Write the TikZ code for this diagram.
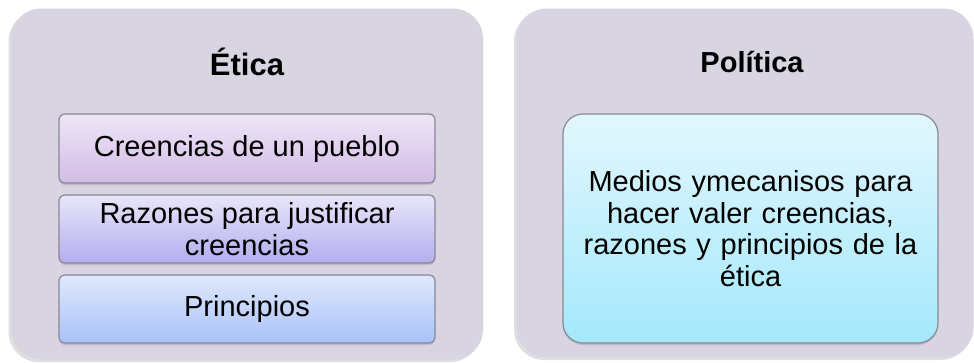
\documentclass[tikz,border=0pt]{standalone}
\usepackage{fontspec}
\setmainfont{Liberation Sans}
\usetikzlibrary{shadows}
\definecolor{outerfill}{HTML}{D8D4E2}
\definecolor{shadowc}{HTML}{B8B8BC}
\definecolor{aTop}{HTML}{EEE5F6}
\definecolor{aBot}{HTML}{D3BCE6}
\definecolor{bTop}{HTML}{E8E6FA}
\definecolor{bBot}{HTML}{B3ADEE}
\definecolor{cTop}{HTML}{E0E8FC}
\definecolor{cBot}{HTML}{A8C2F9}
\definecolor{dTop}{HTML}{E2F7FD}
\definecolor{dBot}{HTML}{A4E8FC}
\definecolor{edgec}{HTML}{8A8894}
\tikzset{
  outerbox/.style={rectangle, rounded corners=30pt, fill=outerfill, draw=none, inner sep=0pt,
    general shadow={fill=shadowc, opacity=0.45, shadow xshift=-2.5pt, shadow yshift=-2.5pt}},
  smallbox/.style={rectangle, rounded corners=6pt, draw=edgec, line width=1.2pt, inner sep=0pt,
    shading=axis, shading angle=0, align=center, font=\fontsize{29}{31.5}\selectfont,
    general shadow={fill=black, opacity=0.12, shadow xshift=0pt, shadow yshift=-2pt}},
  bigbox/.style={smallbox, rounded corners=20pt},
  title/.style={font=\fontsize{30}{34}\selectfont\bfseries}
}
\begin{document}
\begin{tikzpicture}[x=1pt,y=-1pt]
\useasboundingbox (0,0) rectangle (974,362);
% outer containers
\node[outerbox, minimum width=472pt, minimum height=351pt] (L) at (247,184) {};
\node[outerbox, minimum width=457pt, minimum height=349pt] (R) at (745,183) {};
% titles
\node[title, font=\fontsize{31}{34}\selectfont\bfseries] (Lt) at (247,62) {Ética};
\node[title, font=\fontsize{29}{34}\selectfont\bfseries] (Rt) at (752,62) {Política};
% ethics boxes
\node[smallbox, top color=aTop, bottom color=aBot, minimum width=376pt, minimum height=69pt] (A) at (247,148.5) {Creencias de un pueblo};
\node[smallbox, top color=bTop, bottom color=bBot, minimum width=376pt, minimum height=68pt] (B) at (247,229) {Razones para justificar\\creencias};
\node[smallbox, top color=cTop, bottom color=cBot, minimum width=376pt, minimum height=68pt] (C) at (247,309) {Principios};
% politics box
\node[bigbox, top color=dTop, bottom color=dBot, minimum width=375pt, minimum height=229pt, text width=360pt] (D) at (750.5,228.5) {Medios ymecanisos para\\hacer valer creencias,\\razones y principios de la\\ética};
\end{tikzpicture}
\end{document}
